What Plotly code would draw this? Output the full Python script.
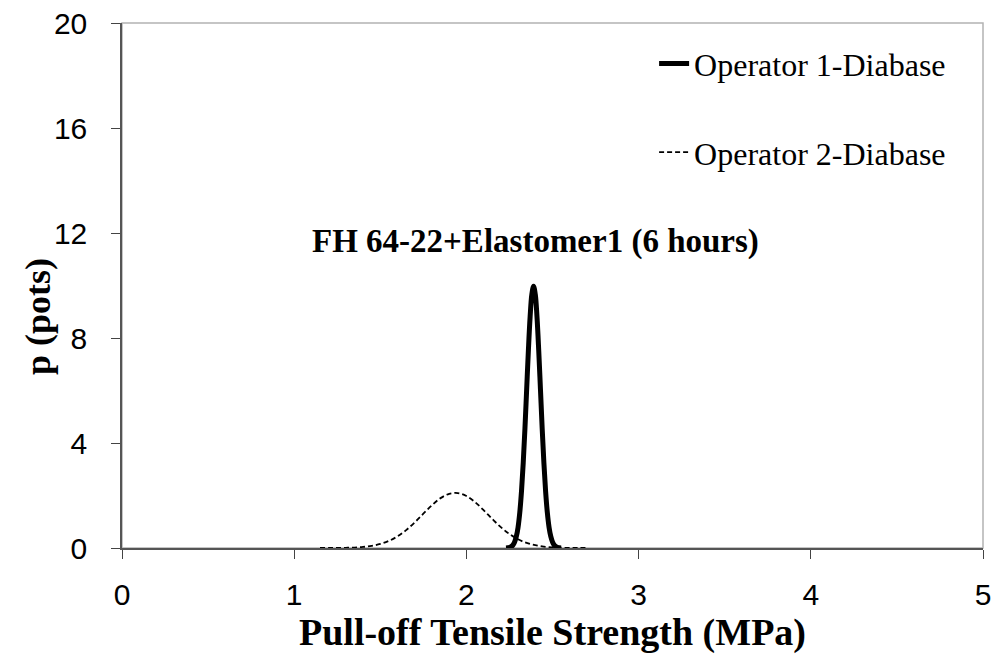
import plotly.graph_objects as go

# Operator 1 - Diabase (solid)
op1_x = [2.23, 2.24, 2.25, 2.26, 2.27, 2.28, 2.29, 2.30, 2.31, 2.32, 2.33, 2.34, 2.35, 2.36, 2.37, 2.38,
         2.39, 2.40, 2.41, 2.42, 2.43, 2.44, 2.45, 2.46, 2.47, 2.48, 2.49, 2.50, 2.51, 2.52, 2.53, 2.54, 2.55]
op1_y = [0.003, 0.009, 0.022, 0.05, 0.11, 0.23, 0.44, 0.79, 1.35, 2.16, 3.24, 4.56, 6.05, 7.53, 8.80, 9.66,
         9.97, 9.66, 8.80, 7.53, 6.05, 4.56, 3.24, 2.16, 1.35, 0.79, 0.44, 0.23, 0.11, 0.05, 0.022, 0.009, 0.003]

# Operator 2 - Diabase (dashed)
op2_x = [1.15, 1.20, 1.25, 1.30, 1.35, 1.40, 1.45, 1.50, 1.55, 1.60, 1.65, 1.70, 1.75, 1.80, 1.85, 1.90,
         1.95, 2.00, 2.05, 2.10, 2.15, 2.20, 2.25, 2.30, 2.35, 2.40, 2.45, 2.50, 2.55, 2.60, 2.65, 2.70]
op2_y = [0.0004, 0.0012, 0.0032, 0.008, 0.018, 0.040, 0.081, 0.153, 0.27, 0.444, 0.682, 0.977, 1.307, 1.632, 1.90, 2.064,
         2.093, 1.981, 1.749, 1.44, 1.107, 0.794, 0.531, 0.332, 0.193, 0.105, 0.053, 0.025, 0.011, 0.0046, 0.0018, 0.0006]

x_ticks = [0, 1, 2, 3, 4, 5]
y_ticks = [0, 4, 8, 12, 16, 20]

serif = "Liberation Serif, Times New Roman, serif"
sans = "Liberation Sans, Arial, sans-serif"

fig = go.Figure()
fig.add_trace(go.Scatter(x=op1_x, y=op1_y, mode="lines", name="Operator 1-Diabase",
                         line=dict(color="black", width=5, shape="spline"), legendgroup="a"))
fig.add_trace(go.Scatter(x=op2_x, y=op2_y, mode="lines", name="Operator 2-Diabase",
                         line=dict(color="black", width=1.8, dash="5px,3px", shape="spline"), legendgroup="b"))

fig.add_shape(type="rect", xref="paper", yref="paper", x0=0, y0=0, x1=1, y1=1,
              line=dict(color="#b3b3b3", width=1.5), layer="below")

fig.add_annotation(x=2.40, y=11.66, text="<b>FH 64-22+Elastomer1 (6 hours)</b>", showarrow=False,
                   font=dict(family=serif, size=33, color="black"))
fig.add_annotation(xref="paper", yref="paper", x=-0.0976, y=0.442, text="<b>p (pots)</b>", textangle=-90,
                   showarrow=False, font=dict(family=serif, size=36, color="black"),
                   xanchor="center", yanchor="middle")

fig.update_layout(
    width=995, height=659,
    margin=dict(l=122, r=12, t=23, b=111),
    paper_bgcolor="white", plot_bgcolor="white",
    showlegend=True,
    legend=dict(x=0.618, y=0.975, xanchor="left", yanchor="top", bgcolor="rgba(0,0,0,0)",
                font=dict(family=serif, size=32, color="black"), tracegroupgap=44,
                traceorder="grouped"),
    xaxis=dict(range=[0, 5], tickvals=x_ticks, ticks="outside", ticklen=9, tickcolor="#444",
               showline=True, linecolor="#555", linewidth=1.5, showgrid=False, zeroline=False,
               automargin=False,
               tickfont=dict(family=sans, size=30, color="black"), ticklabelstandoff=10,
               title=dict(text="<b>Pull-off Tensile Strength (MPa)</b>", font=dict(family=serif, size=38, color="black"),
                          standoff=6)),
    yaxis=dict(range=[0, 20], tickvals=y_ticks, ticks="outside", ticklen=9, tickcolor="#444",
               showline=True, linecolor="#555", linewidth=1.5, showgrid=False, zeroline=False,
               automargin=False,
               tickfont=dict(family=sans, size=30, color="black"), ticklabelstandoff=18),
)

fig.write_html("out.html")
